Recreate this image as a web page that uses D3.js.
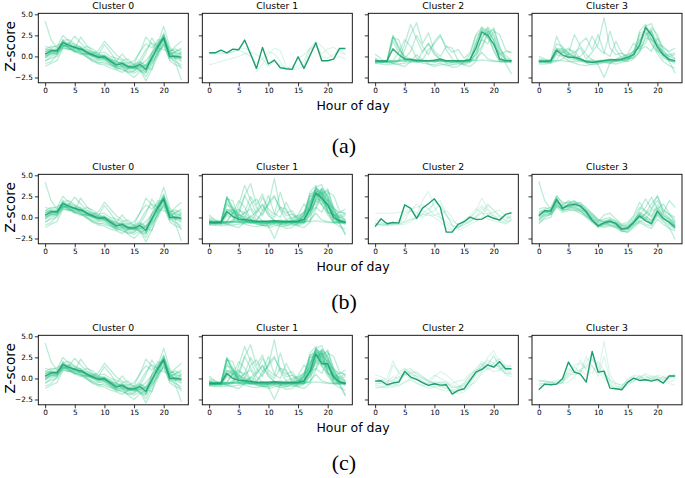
<!DOCTYPE html>
<html><head><meta charset="utf-8">
<script src="https://cdn.jsdelivr.net/npm/d3@7"></script>
<style>body{margin:0;background:#fff}svg{display:block;background:#fff}</style>
</head><body><svg id="chart" width="685" height="478"></svg>
<script>
// ---------- data ----------
const hours = [0,1,2,3,4,5,6,7,8,9,10,11,12,13,14,15,16,17,18,19,20,21,22,23];
const xTicks = [0,5,10,15,20];
const yTicks = [-2.5,0,2.5,5];
const clusterTitles = ["Cluster 0","Cluster 1","Cluster 2","Cluster 3"];
const rowLabels = ["(a)","(b)","(c)"];
const xLabel = "Hour of day";
const yLabel = "Z-score";

// Cluster 0 (same in all three rows)
const c0Centroid = [0.28,0.67,0.67,1.63,1.35,1.07,0.9,0.5,0.2,-0.1,-0.04,-0.55,-1.03,-0.83,-1.23,-1.27,-0.95,-1.55,-0.12,1.15,2.22,0.0,0.0,-0.08];
const c0Members = [
 [4.2,2.0,1.0,1.8,1.2,0.8,0.5,0.2,-0.3,-0.5,-0.4,-0.9,-1.2,-1.1,-1.4,-1.5,-1.2,-1.0,-0.3,0.6,1.8,0.4,0.0,-0.2],
 [-1.2,-0.8,-0.5,1.0,0.9,0.6,0.4,0.3,0.1,0.0,0.2,-0.3,-0.7,-0.8,-1.0,-1.2,-1.5,-2.4,-1.0,0.3,1.6,0.2,-0.8,-2.8],
 [0.8,1.2,1.1,2.5,1.8,1.4,1.0,0.6,0.2,0.0,-0.3,-0.8,-1.3,-1.5,-1.8,-2.0,-1.6,-1.9,-0.8,0.4,1.4,0.5,0.4,0.3],
 [0.0,0.3,0.4,1.2,1.5,2.4,1.6,0.9,0.5,0.2,0.1,-0.5,-0.8,-0.6,-1.1,-1.0,-0.4,0.8,1.6,1.2,2.0,0.8,0.6,1.0],
 [0.5,0.8,0.9,1.4,1.0,0.7,0.9,0.8,0.5,0.2,1.4,0.5,-0.5,-0.9,-1.3,-1.5,-1.3,-1.8,-0.5,1.5,3.6,1.2,0.3,-0.5],
 [-0.5,-0.2,0.0,1.0,0.8,1.2,0.6,0.0,-0.4,-0.8,-0.6,-1.0,-1.5,-1.3,-1.6,-1.8,-0.8,0.4,2.2,1.0,0.8,0.5,1.2,1.8],
 [1.2,1.0,1.3,1.6,1.3,1.1,1.2,0.6,0.4,0.1,-0.2,-0.4,-0.9,-0.7,-0.8,-0.5,0.5,2.3,1.5,0.6,1.2,-0.3,-0.6,-1.0],
 [-0.9,-0.6,0.2,2.0,1.0,0.5,0.8,1.2,0.9,0.3,0.0,-0.2,-0.5,-1.2,-2.0,-2.5,-1.8,-1.4,-0.6,0.2,2.6,1.0,-0.4,-1.5],
 [0.3,0.5,0.4,1.1,1.6,1.3,0.4,0.0,-0.6,-0.9,-1.0,-1.4,-1.6,-1.9,-1.4,-1.2,-1.0,-0.5,0.4,1.4,2.6,0.2,0.5,0.2],
 [0.6,0.9,0.8,1.3,0.8,0.9,2.3,1.3,0.6,0.4,0.5,0.0,-0.2,-0.5,-0.3,-1.0,-1.8,-2.0,0.5,2.0,1.9,-0.2,-0.3,0.6],
 [-0.2,0.2,0.5,1.8,1.6,1.0,0.7,0.2,0.3,0.7,1.8,1.0,0.2,-0.3,-0.8,-1.0,-0.6,-1.2,-1.6,0.8,2.4,0.6,0.9,0.4],
 [0.1,0.4,0.2,1.4,1.0,0.6,0.4,-0.1,-0.5,-0.7,-0.8,-1.1,-1.3,-1.2,-1.5,-1.4,-1.6,-2.9,-1.5,0.0,1.5,-0.5,-1.0,-1.2],
 [0.9,0.7,0.6,1.9,2.0,1.5,1.1,0.4,0.0,-0.2,0.0,-0.4,-0.6,0.3,-0.6,-0.9,0.6,1.5,1.0,1.7,2.1,0.2,0.6,0.8],
 [-0.6,0.0,0.3,1.2,1.1,0.6,0.2,0.4,0.0,-0.4,-0.3,-0.8,-1.4,-1.6,-1.9,-1.7,-1.4,-1.1,-0.3,1.0,2.8,0.5,-0.2,-0.6],
 [0.0,0.5,0.8,1.4,1.2,1.2,0.8,0.6,0.3,0.1,-0.2,-0.4,-0.9,-1.0,-1.1,-1.4,-1.1,-1.2,-0.4,0.9,2.0,0.2,-0.2,-0.3],
 [0.5,0.8,0.5,1.7,1.5,0.9,1.0,0.4,0.0,-0.3,-0.1,-0.7,-1.1,-0.7,-1.3,-1.1,-0.8,-1.4,0.2,1.3,2.3,-0.2,0.2,0.1],
 [0.2,0.6,0.7,1.5,1.1,1.1,0.7,0.6,0.1,0.0,0.1,-0.5,-0.9,-1.0,-1.2,-1.3,-1.2,-1.7,-0.3,1.0,2.1,0.1,0.1,-0.2],
 [-0.2,0.4,0.6,1.3,1.3,0.9,0.9,0.3,0.3,-0.2,-0.3,-0.6,-1.2,-1.1,-1.4,-1.2,-0.7,-1.0,0.4,1.4,2.4,0.4,-0.1,0.0]
];

// Row (a) cluster 1
const a1Centroid = [0.43,0.43,0.75,0.43,0.87,0.8,1.94,0.25,-1.42,1.07,-0.9,-0.43,-1.34,-1.46,-1.54,-0.04,-1.42,0.1,1.62,-0.51,-0.51,-0.32,0.95,0.95];
const a1Members = [
 [-1.0,-0.8,-0.6,-0.4,-0.2,0.0,0.3,0.5,0.2,-0.3,0.6,0.3,-0.6,-1.6,-1.5,-1.2,-0.5,1.0,1.8,1.2,0.4,-0.2,0.0,-0.3],
 [0.4,0.3,0.3,0.4,0.5,0.9,1.0,0.6,-1.8,-0.9,0.2,1.0,0.7,-1.2,-1.6,-1.5,-1.0,0.8,1.2,0.3,0.9,1.1,0.5,0.2],
 [0.2,0.4,0.5,0.3,0.6,0.8,0.4,0.0,-0.8,-0.3,-1.2,-0.6,-1.0,-1.4,-1.2,-0.3,0.2,0.9,1.4,0.0,-0.2,0.2,0.8,0.3]
];

// Row (a) cluster 2
const a2Centroid = [-0.55,-0.55,-0.55,0.9,0.2,-0.3,-0.35,-0.45,-0.5,-0.5,-0.45,-0.3,-0.5,-0.5,-0.55,-0.5,-0.4,1.0,2.9,2.5,1.5,-0.3,-0.5,-0.5];
const a2Members = [
 [-0.6,-0.6,-0.5,2.4,1.0,-0.4,-0.5,-0.6,-0.6,-0.5,-0.6,-0.5,-0.6,-0.6,-0.6,-0.5,-0.5,-0.3,0.5,-0.3,-0.5,-0.6,-0.6,-0.6],
 [-0.5,-0.6,-0.6,2.5,1.2,-0.3,-0.4,-0.5,-0.5,-0.6,-0.5,-0.4,-0.6,-0.5,-0.6,-0.6,-0.6,1.0,2.8,2.2,0.8,-0.5,-0.6,-0.6],
 [-0.7,-0.6,-0.6,2.2,2.0,-0.2,-0.5,-0.5,-0.6,-0.5,-0.6,-0.6,-0.5,-0.6,-0.5,-0.6,-0.5,-0.5,-0.4,-0.5,-0.6,-0.6,-0.7,-0.6],
 [-0.4,-0.6,-0.7,2.3,0.8,0.0,-0.3,-0.6,-0.5,-0.6,-0.4,-0.5,-0.5,-0.7,-0.6,-0.6,-0.4,1.8,3.2,2.8,2.0,-0.4,-0.5,-0.5],
 [-0.6,-0.5,-0.6,-0.5,0.5,2.0,1.2,-0.2,-0.5,-0.5,-0.6,-0.4,-0.6,-0.5,-0.5,-0.6,-0.6,0.3,2.2,3.1,2.4,0.5,-0.4,-0.6],
 [-0.3,-0.8,-0.5,-0.6,-0.4,1.5,3.8,2.0,0.5,1.5,0.2,-0.3,-0.8,-0.9,-0.7,-0.5,-0.4,1.4,3.0,2.5,3.4,1.0,-0.2,-0.5],
 [-0.9,-0.6,-0.8,-0.7,-0.5,-0.2,0.6,2.5,1.2,0.2,1.8,2.6,0.8,-0.3,-0.8,-1.0,-0.7,0.5,2.0,1.5,3.0,2.6,0.8,0.4],
 [-0.5,-0.7,-0.6,-0.8,-0.6,0.8,2.6,4.0,1.5,2.8,0.6,0.0,1.2,1.0,-0.5,-1.0,-1.2,-0.6,1.0,2.6,1.2,0.4,-0.3,-0.8],
 [-0.8,-0.9,-1.0,-0.9,-0.9,-0.8,-0.7,-0.6,-0.8,-0.9,-1.0,-0.8,-1.1,-1.0,-0.9,-0.8,-0.5,1.5,3.5,3.0,2.0,0.2,-0.8,-2.1],
 [-0.2,-0.6,-0.6,-0.5,-0.5,-0.4,-0.3,-0.6,-0.4,0.8,1.5,2.4,1.2,0.5,0.8,-0.2,0.4,2.6,3.4,2.2,1.5,0.2,0.6,0.5],
 [-0.6,-0.6,-0.6,-0.6,-0.6,-0.5,-0.6,-0.4,-0.5,-0.6,-0.5,-0.6,-0.6,-0.5,-0.6,-0.6,0.2,2.4,3.0,3.3,1.8,-0.2,-0.5,-0.6],
 [0.3,-0.3,-0.7,-0.8,-1.0,-1.2,-0.6,0.2,-0.4,-0.9,-1.2,-1.0,-0.9,-1.3,-1.2,-0.6,-0.2,0.8,2.0,3.5,2.6,0.8,0.1,-0.4],
 [-0.6,-0.7,-0.5,-0.6,-0.5,-0.6,-0.5,-0.7,-0.6,-0.6,-0.7,-0.4,-0.6,-0.7,-0.6,-0.5,-0.6,-0.4,2.5,2.8,0.6,-0.6,-0.6,-0.6],
 [-0.7,-0.5,-0.6,1.8,0.4,-0.5,-0.4,-0.6,0.6,1.6,0.4,-0.4,-0.6,-0.7,-0.4,-0.8,-0.6,0.2,1.2,2.9,3.2,1.2,-0.4,-0.5]
];

// Row (a) cluster 3
const a3Centroid = [-0.56,-0.58,-0.5,0.75,0.16,-0.1,-0.1,-0.3,-0.63,-0.7,-0.6,-0.5,-0.4,-0.4,-0.3,-0.1,0.25,1.35,3.45,2.54,1.15,0.16,-0.35,-0.5];
const a3Members = [
 [-0.6,-0.6,-0.5,2.4,0.8,-0.2,-0.4,-0.5,-0.6,-0.7,-0.6,-0.5,-0.5,-0.4,-0.4,-0.3,0.2,1.5,3.4,2.5,1.0,0.0,-0.5,-0.6],
 [-0.7,-0.6,-0.6,1.5,1.2,0.4,0.0,-0.4,-0.7,-0.8,-0.7,-0.6,-0.6,-0.5,-0.4,-0.2,0.3,1.2,3.6,2.8,1.4,0.3,-0.4,-0.6],
 [-0.5,-0.6,-0.6,-0.4,0.6,1.0,0.2,-0.3,-0.6,-0.7,-0.6,-0.5,-0.4,-0.5,-0.3,0.0,0.6,2.8,3.0,1.5,0.6,0.3,0.2,0.4],
 [-0.8,-0.6,-0.7,0.4,0.2,0.0,-0.2,-0.5,-0.8,-1.0,-0.9,-0.7,-0.8,-0.6,-0.5,-0.4,0.0,0.8,3.6,3.9,2.2,0.4,-0.6,-2.0],
 [-0.4,-0.5,-0.5,0.9,0.5,0.2,0.5,1.0,-0.3,0.5,1.5,4.6,1.0,0.2,0.4,-0.3,-0.2,0.5,2.2,2.0,1.2,0.6,0.0,-0.3],
 [-0.6,-0.7,-0.8,-0.6,-0.3,0.3,2.6,1.2,0.2,-0.4,-1.0,-2.5,-0.8,-0.3,0.0,0.2,0.6,1.9,2.6,3.0,1.6,0.4,-0.5,-0.8],
 [-0.6,-0.6,-0.6,-0.5,-0.5,-0.6,-0.6,-0.6,-0.5,-0.6,-0.6,-0.6,-0.6,-0.6,-0.5,-0.4,0.2,2.0,3.2,2.0,0.6,-0.2,-0.5,-0.6],
 [-0.3,-0.4,-0.5,0.8,1.0,0.2,0.0,1.6,2.2,0.8,2.6,0.5,0.0,1.8,0.4,0.0,0.6,1.0,1.6,3.2,0.8,0.2,0.0,0.2],
 [-0.9,-0.9,-0.8,0.2,0.0,-0.5,-0.8,-1.0,-1.1,-0.9,-0.8,-0.7,-0.8,-0.9,-0.7,-0.5,0.4,2.5,2.8,1.5,0.3,-0.6,-1.1,-1.4],
 [0.0,-0.3,-0.5,0.4,0.9,0.4,-0.2,0.0,0.8,2.4,1.0,0.3,3.0,0.8,-0.2,0.3,1.6,0.8,1.2,0.6,2.2,1.0,0.6,1.0],
 [-0.5,-0.6,-0.6,1.0,0.6,0.1,-0.3,-0.4,-0.5,-0.4,-0.5,-0.4,-0.3,-0.4,-0.4,-0.3,-0.1,3.0,3.8,2.0,1.4,1.2,0.4,-0.3],
 [-0.6,-0.7,-0.6,0.6,0.4,0.8,0.6,-0.2,-0.6,-0.6,-0.7,-0.5,-0.6,-0.5,-0.5,-0.6,-0.3,0.6,2.4,3.4,2.6,0.8,-0.2,-0.6]
];

// Row (b) cluster 1 and row (c) cluster 1 (members of (a) clusters 2 and 3 together)
const b1Centroid = [-0.6,-0.6,-0.55,0.7,0.1,-0.2,-0.25,-0.35,-0.45,-0.45,-0.45,-0.4,-0.45,-0.5,-0.5,-0.45,-0.25,1.0,2.9,2.3,1.5,0.0,-0.4,-0.55];
const c1Centroid = [-0.6,-0.6,-0.55,0.6,0.0,-0.2,-0.25,-0.35,-0.45,-0.45,-0.45,-0.4,-0.45,-0.5,-0.5,-0.45,-0.3,0.8,2.9,1.75,1.75,0.1,-0.4,-0.6];

// Row (b) cluster 2
const b2Centroid = [-1.1,-0.16,-0.75,-0.6,-0.67,1.5,1.07,-0.12,1.1,1.62,2.21,1.19,-1.74,-1.74,-0.83,-0.51,0.04,-0.24,-0.2,0.2,-0.1,-0.32,0.36,0.55];
const b2Members = [
 [0.5,0.5,0.5,0.5,0.6,0.7,1.0,1.2,1.5,1.0,0.3,0.0,-0.5,-1.0,-1.2,-0.8,-0.6,0.2,0.6,-0.2,-0.4,-0.6,-0.5,-0.3],
 [-1.0,-0.8,-0.9,-0.8,-0.3,0.5,0.8,0.2,2.0,3.1,1.2,0.0,-0.8,-1.4,-1.2,-0.6,-0.5,0.0,1.2,0.4,0.2,0.0,-0.3,0.4],
 [-0.6,-0.9,-1.0,-0.9,-0.8,-0.5,-0.2,0.0,0.5,1.0,1.6,2.0,0.4,-0.9,-1.3,-0.6,-0.2,0.8,2.3,1.0,0.3,-0.5,-0.8,-0.2],
 [-0.3,-0.5,-0.7,-0.6,-0.6,-0.4,0.9,1.6,0.8,0.4,0.0,-0.5,-1.2,-1.6,-1.0,-0.3,0.2,1.0,0.6,1.6,0.8,0.1,-0.4,0.2],
 [-0.8,-0.7,-0.9,-0.7,-0.8,-0.6,-0.3,-0.1,0.3,0.5,2.0,1.2,0.3,-1.0,-1.5,-1.2,-0.8,-0.5,0.0,1.5,0.9,0.2,0.0,-0.1],
 [-0.9,-0.8,-0.6,-0.8,-0.7,0.2,0.8,0.6,0.0,0.5,0.8,1.6,0.2,-0.4,-0.8,-0.5,0.0,0.6,1.4,0.8,0.0,-0.2,-0.7,-0.4],
 [-0.7,-1.0,-0.8,-0.9,-0.9,-0.8,-0.5,0.0,0.4,0.2,0.3,0.5,0.8,0.0,-1.1,-0.9,-0.4,0.0,0.5,0.4,0.6,0.9,0.2,-0.1]
];

// Row (b) cluster 3
const b3Centroid = [0.2,0.83,0.75,2.17,1.07,1.46,1.58,1.38,0.67,-0.32,-1.03,-0.63,-0.43,-0.71,-1.42,-1.26,-0.59,0.16,-0.4,-0.75,0.75,-0.12,-0.59,-1.19];
const b3Members = [
 [4.3,2.0,1.0,1.5,1.0,1.3,1.0,0.8,0.2,-0.4,-0.8,-0.6,-0.5,-0.8,-1.0,-1.1,-0.6,0.2,0.0,-0.3,0.8,0.2,-0.2,-0.6],
 [-0.8,0.0,0.4,1.6,0.8,1.0,1.2,1.0,0.5,-0.2,-0.9,-1.2,-1.0,-1.2,-1.6,-1.8,-1.0,-0.4,-0.8,-1.0,0.2,-0.5,-1.2,-2.6],
 [0.5,1.0,1.2,2.5,1.8,1.7,1.9,1.5,0.9,0.2,-0.4,-0.2,0.0,-0.5,-1.0,-0.8,0.0,1.2,0.8,0.2,1.5,0.6,0.0,-0.8],
 [0.0,0.4,0.5,1.8,1.4,2.0,1.3,0.9,0.6,0.0,-0.6,-0.8,-0.9,-1.1,-1.3,-1.4,-0.8,-0.2,0.5,1.6,2.5,1.0,0.3,-0.4],
 [1.0,1.2,0.9,1.9,0.8,1.1,1.6,1.8,1.0,0.5,-0.3,-0.5,-0.2,-0.4,-0.9,-1.0,-0.4,0.6,0.2,-0.4,0.4,-0.2,-0.5,-1.0],
 [-0.4,0.2,0.3,1.2,0.6,0.8,0.9,0.7,0.3,-0.5,-1.2,-1.0,-0.9,-1.2,-1.7,-1.5,-0.9,-0.5,-0.2,0.8,1.0,1.6,0.5,-0.6],
 [0.3,0.6,0.6,2.2,1.3,1.2,1.5,1.3,0.7,-0.1,-0.6,-0.4,-0.3,-0.7,-1.2,-1.1,-0.3,0.5,-0.1,-0.8,0.4,-0.4,-0.9,-1.4],
 [-0.6,-0.2,0.0,1.4,1.0,1.6,1.8,1.6,1.2,0.4,-0.2,-0.6,-0.8,-1.0,-1.4,-1.3,-0.7,0.9,2.2,1.0,2.6,0.5,2.0,1.2],
 [0.7,0.8,0.4,1.7,1.5,1.4,1.1,0.8,0.0,-0.6,-1.0,-0.9,-0.6,-0.9,-1.6,-1.7,-1.2,-0.6,-1.0,-1.3,-0.2,-0.8,-1.3,-1.6],
 [-0.2,0.5,0.8,2.0,1.1,1.3,1.4,1.2,0.8,0.2,-0.5,0.3,0.5,-0.2,-0.8,-0.6,0.2,1.8,0.6,0.0,1.2,0.2,-0.3,-0.9],
 [0.4,0.7,0.7,2.6,1.6,1.8,2.0,1.2,0.4,-0.4,-1.1,-0.8,-0.6,-0.6,-1.2,-1.3,-0.6,0.0,0.4,1.0,2.0,0.8,0.4,0.0],
 [-0.3,0.3,0.4,1.3,0.9,1.0,0.8,0.5,0.1,-0.3,-0.9,-0.7,-0.5,-0.9,-1.4,-1.2,-0.6,0.3,1.2,2.4,1.0,0.4,-0.2,-1.0],
 [0.3,0.8,0.7,2.0,1.2,1.4,1.5,1.3,0.6,-0.2,-0.9,-0.7,-0.5,-0.7,-1.3,-1.2,-0.6,0.2,-0.2,-0.5,0.6,-0.1,-0.5,-1.0],
 [0.1,0.7,0.9,2.3,1.0,1.6,1.6,1.4,0.8,-0.4,-1.0,-0.6,-0.3,-0.8,-1.5,-1.4,-0.5,0.4,-0.4,-0.6,0.9,0.0,-0.7,-1.3]
];

// Row (c) cluster 2
const c2Centroid = [-0.32,-0.28,-0.75,-0.55,-0.43,0.83,0.16,-0.12,-0.51,-0.83,-0.63,-0.79,-0.75,-1.86,-1.42,-1.23,-0.24,0.75,1.07,1.62,1.34,2.0,1.15,1.15];
const c2Members = [
 [-0.4,-0.2,0.0,2.1,0.6,0.4,0.8,0.2,-0.3,-0.6,-0.4,-0.5,-0.4,-1.0,-1.2,-0.8,0.0,0.8,1.5,2.2,1.8,1.2,0.8,0.6],
 [-1.2,-1.0,-0.8,-0.9,-0.6,0.6,1.0,0.6,0.2,-0.3,-0.6,-0.8,-0.9,-1.4,-1.6,-1.3,-0.6,0.5,1.4,2.5,3.3,1.8,1.0,0.8],
 [0.0,-0.2,-0.4,0.2,0.0,0.9,1.2,0.5,0.0,-0.3,-0.5,-0.6,-0.6,-0.8,-1.0,-0.5,0.2,1.2,1.8,1.2,1.8,2.4,1.5,1.0],
 [-0.8,-0.9,-1.1,-1.0,-0.9,-0.5,0.0,-0.2,-0.6,-0.9,-1.0,-0.9,-1.1,-1.5,-1.8,-1.6,-1.0,0.0,0.8,1.6,2.6,1.5,0.4,0.2],
 [0.4,0.2,-0.2,-0.4,-0.2,0.4,0.6,0.8,0.2,-0.2,0.4,0.0,-0.4,-0.6,-0.3,-0.2,0.6,1.0,1.2,2.0,1.4,1.0,1.6,1.4],
 [-0.6,-0.5,-0.7,1.6,0.8,1.2,0.6,0.0,-0.4,-0.8,-0.6,-1.0,-1.2,-1.6,-1.4,-1.0,-0.4,0.4,1.0,1.4,1.6,1.4,0.6,0.4],
 [-1.0,-1.1,-1.0,-0.7,-0.8,-0.4,-0.2,-0.6,-0.9,-0.6,0.2,0.8,0.4,-0.2,-0.8,-1.4,-0.8,-0.4,0.6,1.2,0.8,1.0,0.6,0.6],
 [-0.2,-0.4,-0.5,-0.2,0.2,0.5,0.0,-0.5,-0.8,-1.2,-1.0,-1.3,-1.5,-1.4,-1.2,-0.6,0.4,0.9,2.0,1.6,2.8,1.2,1.2,1.6],
 [-0.7,-0.6,-0.8,-0.4,0.6,1.1,0.4,0.3,0.0,-0.4,-0.7,-0.4,-0.6,-1.1,-1.0,-0.8,-0.2,0.6,1.6,1.0,1.4,1.6,1.0,1.2]
];

// Row (c) cluster 3
const c3Centroid = [-1.34,-0.67,-0.75,-0.67,-0.04,1.94,0.75,0.51,-0.43,3.2,0.75,0.87,-1.15,-1.23,-1.34,-0.43,0.04,-0.24,-0.16,-0.32,-0.12,-0.55,0.28,0.28];
const c3Members = [
 [-0.8,-0.5,-0.4,-0.2,-0.1,0.8,1.6,1.8,1.2,2.4,0.8,0.0,-0.8,-1.2,-1.2,-0.6,-0.2,0.0,0.2,0.0,-0.2,0.2,0.0,0.4],
 [-0.4,-0.3,-0.5,-0.4,-0.3,0.6,0.4,0.8,2.6,1.4,0.6,4.4,0.4,-0.6,-0.8,-0.4,0.0,-0.2,0.0,0.3,0.2,-0.2,0.4,0.2],
 [-0.6,-0.6,-0.6,-0.7,-0.5,1.2,0.6,2.2,1.0,0.6,2.0,1.0,-0.4,-1.0,-1.0,-0.5,-0.4,0.4,-0.2,0.0,-0.4,-0.6,0.2,0.6],
 [-0.2,-0.4,-0.4,-0.6,-0.4,0.4,1.4,0.6,2.0,2.8,1.2,0.4,-0.6,-1.4,-1.0,0.0,0.2,0.0,0.6,0.2,0.0,-0.2,-0.6,-0.8],
 [-0.9,-0.8,-0.7,-0.6,-0.5,0.2,0.8,1.0,0.4,1.6,0.2,2.6,-0.2,-0.8,-1.2,-0.8,-0.3,0.2,0.4,-0.2,0.2,0.0,0.3,0.0],
 [-0.3,-0.2,-0.5,-0.5,-0.6,-0.4,0.2,1.0,1.5,2.2,1.6,0.6,-0.2,-0.6,-0.8,-0.2,0.4,0.2,-0.2,0.0,0.4,0.2,-0.4,-0.2]
];

// ---------- layout ----------
const panels = [
  [{m:c0Members,c:c0Centroid,dense:true},{m:a1Members,c:a1Centroid,dense:false},{m:a2Members,c:a2Centroid,dense:true},{m:a3Members,c:a3Centroid,dense:true}],
  [{m:c0Members,c:c0Centroid,dense:true},{m:a2Members.concat(a3Members),c:b1Centroid,dense:true},{m:b2Members,c:b2Centroid,dense:false},{m:b3Members,c:b3Centroid,dense:true}],
  [{m:c0Members,c:c0Centroid,dense:true},{m:a3Members.concat(a2Members),c:c1Centroid,dense:true},{m:c2Members,c:c2Centroid,dense:false},{m:c3Members,c:c3Centroid,dense:false}]
];

const colX = [38.3, 202.3, 368.3, 532];
const rowY = [13.3, 174.3, 335.3];
const W = 150, H = 69.5;
const rowLabelY = [145, 301, 462];

const svg = d3.select("#chart");
svg.append("rect").attr("width",685).attr("height",478).attr("fill","#fff");

const x = d3.scaleLinear().domain([-1.15, 24.15]).range([0, W]);
const y = d3.scaleLinear().domain([-3.13, 5.12]).range([H, 0]);
const line = d3.line().x((d,i)=>x(hours[i])).y(d=>y(d));
const fmt = d3.format(".1f");

const memberColor = "#2fc48a";
const centroidColor = "#1e9e6c";

panels.forEach((row, r) => {
  row.forEach((p, c) => {
    const g = svg.append("g").attr("transform", `translate(${colX[c]},${rowY[r]})`);
    const cid = `clip-${r}-${c}`;
    g.append("clipPath").attr("id", cid).append("rect").attr("width", W).attr("height", H);
    const plot = g.append("g").attr("clip-path", `url(#${cid})`);
    plot.selectAll("path.member").data(p.m).join("path")
      .attr("class","member")
      .attr("d", line)
      .attr("fill","none")
      .attr("stroke", memberColor)
      .attr("stroke-width", p.dense ? 1.3 : 1.1)
      .attr("stroke-linejoin","round")
      .attr("stroke-opacity", p.dense ? 0.32 : 0.18);
    plot.append("path").datum(p.c)
      .attr("d", line)
      .attr("fill","none")
      .attr("stroke", centroidColor)
      .attr("stroke-width", 1.4)
      .attr("stroke-linejoin","round")
      .attr("stroke-opacity", p.dense ? 0.85 : 1);

    // axes
    const xa = g.append("g").attr("transform", `translate(0,${H})`)
      .call(d3.axisBottom(x).tickValues(xTicks).tickSize(3.5).tickPadding(2).tickFormat(d3.format("d")));
    const ya = g.append("g")
      .call(d3.axisLeft(y).tickValues(yTicks).tickSize(3.5).tickPadding(2).tickFormat(c === 0 ? fmt : ""));
    [xa, ya].forEach(a => {
      a.select(".domain").remove();
      a.selectAll("line").attr("stroke","#000").attr("stroke-width",0.8);
      a.selectAll("text").attr("font-family","'DejaVu Sans', sans-serif").attr("font-size","7.3px").attr("fill","#000");
    });
    g.append("rect").attr("width", W).attr("height", H)
      .attr("fill","none").attr("stroke","#000").attr("stroke-width",0.9);

    g.append("text").attr("x", W/2).attr("y", -4)
      .attr("text-anchor","middle")
      .attr("font-family","'DejaVu Sans', sans-serif").attr("font-size","9.3px").attr("fill","#000")
      .text(clusterTitles[c]);
  });

  // y label
  svg.append("text")
    .attr("transform", `translate(15,${rowY[r] + 33}) rotate(-90)`)
    .attr("text-anchor","middle")
    .attr("font-family","'DejaVu Sans', sans-serif").attr("font-size","13.6px").attr("fill","#000")
    .text(yLabel);
  // x label
  svg.append("text")
    .attr("x", 353).attr("y", rowY[r] + 96.5)
    .attr("text-anchor","middle")
    .attr("font-family","'DejaVu Sans', sans-serif").attr("font-size","12.5px").attr("fill","#000")
    .text(xLabel);
  // row label
  svg.append("text")
    .attr("x", 344).attr("y", rowLabelY[r])
    .attr("text-anchor","middle").attr("dominant-baseline","central")
    .attr("font-family","'Liberation Serif', serif").attr("font-size","22px").attr("fill","#000")
    .text(rowLabels[r]);
});
</script>
</body></html>
